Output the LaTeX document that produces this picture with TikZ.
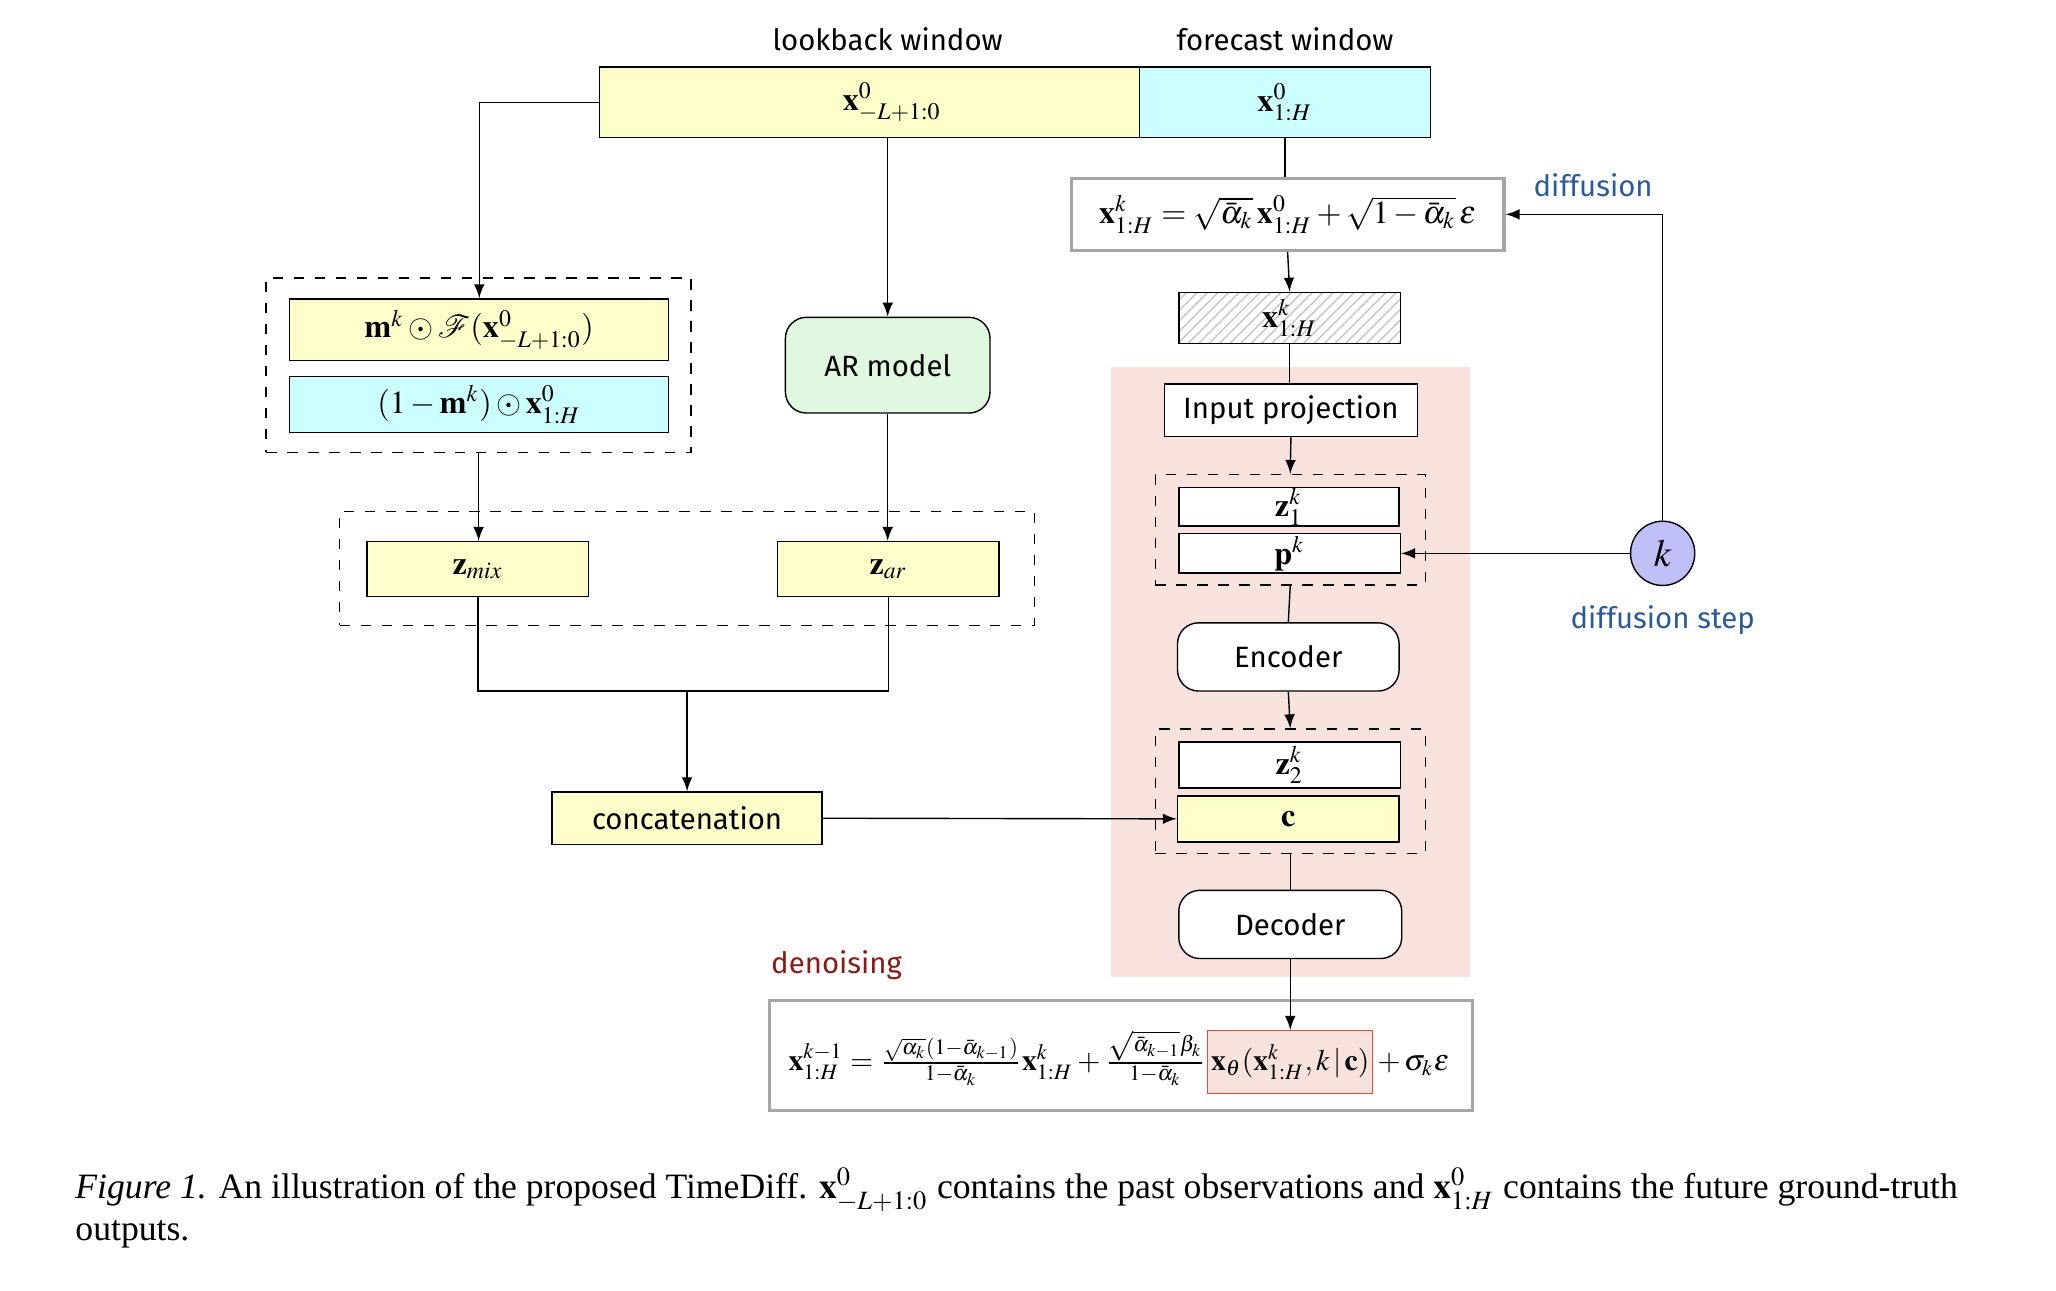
\documentclass[tikz,border=0pt]{standalone}
\usepackage{amsmath}
\usepackage{mathptmx}
\usepackage{mathrsfs}
\usepackage[no-math]{fontspec}
\setmainfont{Liberation Serif}
\newfontfamily\handfont{Fira Sans}
\newfontfamily\capfont{Liberation Serif}
\usetikzlibrary{positioning,patterns}

\definecolor{boxyellow}{RGB}{255,255,204}
\definecolor{boxcyan}{RGB}{204,255,255}
\definecolor{boxgreen}{RGB}{225,248,224}
\definecolor{netpink}{RGB}{248,226,222}
\definecolor{steplav}{RGB}{192,192,248}
\definecolor{diffblue}{RGB}{43,90,154}
\definecolor{denred}{RGB}{140,26,20}
\definecolor{hlred}{RGB}{238,75,50}

\tikzset{
  sz/.style 2 args={minimum width=#1*0.375pt, minimum height=#2*0.375pt},
  blk/.style={draw, inner sep=0pt, font=\fontsize{9.2}{11}\selectfont},
  roundblk/.style={blk, rounded corners=6pt, font=\handfont\fontsize{8.4}{10}\selectfont},
  grp/.style={draw, dashed, inner sep=0pt},
  eqbox/.style={draw=gray!70, line width=0.9pt, inner sep=0pt},
  lbl/.style={font=\handfont\fontsize{8.4}{10}\selectfont},
  deneq/.style={font=\fontsize{8.5}{10}\selectfont},
}

\begin{document}
\begin{tikzpicture}[x=0.375pt,y=-0.375pt,>=latex]
    \useasboundingbox (0,0) rectangle (1568,984);
    \fill[netpink] (847,280) rectangle (1121,745);

    % windows
    \node[blk, fill=boxyellow, sz={412}{54}] (lookback) at (663,78) {\hspace{13pt}$\mathbf{x}^0_{-L+1:0}$};
    \node[blk, fill=boxcyan, sz={222}{54}] (forecast) at (980,78) {$\mathbf{x}^0_{1:H}$};
    \node[lbl] (lbw) at (677,30) {lookback window};
    \node[lbl] (fcw) at (980,30) {forecast window};

    % diffusion branch
    \node[eqbox, fill=white, sz={330}{55}, font=\fontsize{9.2}{11}\selectfont] (eqtop) at (982,163.5) {$\mathbf{x}^k_{1:H}=\sqrt{\bar\alpha_k}\,\mathbf{x}^0_{1:H}+\sqrt{1-\bar\alpha_k}\,\epsilon$};
    \node[lbl, text=diffblue] (dlbl) at (1215,141) {diffusion};
    \node[blk, pattern=north east lines, pattern color=gray!45, sz={169}{39}] (xk) at (983.5,242.5) {$\mathbf{x}^k_{1:H}$};

    % denoising network
    \node[blk, fill=white, sz={193}{40}, font=\handfont\fontsize{8.4}{10}\selectfont] (inproj) at (984.5,313) {Input projection};
    \node[grp, sz={206}{84}] (dash1) at (984,404) {};
    \node[blk, fill=white, sz={168}{29}] (z1) at (983,386.5) {$\mathbf{z}^k_1$};
    \node[blk, fill=white, sz={169}{30}] (pk) at (983.5,422) {$\mathbf{p}^k$};
    \node[roundblk, fill=white, sz={169}{52}] (encoder) at (982.5,501) {Encoder};
    \node[grp, sz={206}{95}] (dash2) at (984,603.5) {};
    \node[blk, fill=white, sz={169}{35}] (z2) at (983.5,583.5) {$\mathbf{z}^k_2$};
    \node[blk, fill=boxyellow, sz={169}{35}] (c) at (982.5,624.5) {$\mathbf{c}$};
    \node[roundblk, fill=white, sz={170}{52}] (decoder) at (984,705) {Decoder};

    % diffusion step
    \node[circle, draw, fill=steplav, minimum size=49*0.375pt, inner sep=0pt, font=\fontsize{11}{13}\selectfont] (kc) at (1268,422) {$k$};
    \node[lbl, text=diffblue] (slbl) at (1268,473) {diffusion step};

    % conditioning branch
    \node[grp, sz={324}{133}] (dashA) at (365,278.5) {};
    \node[blk, fill=boxyellow, sz={289}{47}] (mk) at (365.5,251.5) {$\mathbf{m}^k\odot\mathscr{F}(\mathbf{x}^0_{-L+1:0})$};
    \node[blk, fill=boxcyan, sz={289}{43}] (omk) at (365.5,308.5) {$(1\mathbin{-}\mathbf{m}^k)\odot\mathbf{x}^0_{1:H}$};
    \node[roundblk, fill=boxgreen, sz={156}{73}] (ar) at (677,278.5) {AR model};
    \node[grp, sz={530}{87}] (dashB) at (524,433.5) {};
    \node[blk, fill=boxyellow, sz={169}{42}] (zmix) at (364.5,434) {$\mathbf{z}_{mix}$};
    \node[blk, fill=boxyellow, sz={169}{42}] (zar) at (677.5,434) {$\mathbf{z}_{ar}$};
    \coordinate (join) at (524,527);
    \node[blk, fill=boxyellow, sz={206}{40}, font=\handfont\fontsize{8.4}{10}\selectfont] (concat) at (524,624) {concatenation};

    % denoising equation
    \node[lbl, text=denred] (nlbl) at (638,736) {denoising};
    \node[eqbox, sz={536}{84}] (denbox) at (855,805) {};
    \node[draw=hlred, fill=netpink, inner sep=1pt, sz={124}{48}, deneq] (xth) at (984,810) {$\mathbf{x}_\theta(\mathbf{x}^k_{1:H},k\,|\,\mathbf{c})$};
    \node[base left=0pt of xth, inner sep=0pt, deneq] (denl) {$\mathbf{x}^{k-1}_{1:H}=\frac{\sqrt{\alpha_k}(1-\bar\alpha_{k-1})}{1-\bar\alpha_k}\mathbf{x}^k_{1:H}+\frac{\sqrt{\bar\alpha_{k-1}}\beta_k}{1-\bar\alpha_k}$};
    \node[base right=0pt of xth, inner sep=1pt, deneq] (denr) {$+\,\sigma_k\epsilon$};

    % connectors
    \draw[->] (lookback.west) -| (mk.north);
    \draw[->] (lookback.south -| ar.north) -- (ar.north);
    \draw (forecast.south) -- (forecast.south |- eqtop.north);
    \draw[->] (eqtop.south) -- (xk.north);
    \draw (xk.south) -- (xk.south |- inproj.north);
    \draw[->] (inproj.south) -- (dash1.north);
    \draw (dash1.south) -- (encoder.north);
    \draw[->] (encoder.south) -- (dash2.north);
    \draw (dash2.south) -- (decoder.north);
    \draw[->] (decoder.south) -- (xth.north);
    \draw[->] (kc.north) |- (eqtop.east);
    \draw[->] (kc.west) -- (pk.east);
    \draw[->] (dashA.south) -- (dashA.south |- zmix.north);
    \draw[->] (ar.south) -- (ar.south |- zar.north);
    \draw (zmix.south) |- (join) -| (zar.south);
    \draw[->] (join) -- (concat.north);
    \draw[->] (concat.east) -- (c.west);

    % caption
    \node[anchor=north west, align=left, inner sep=0pt, font=\capfont\fontsize{10.2}{12}\selectfont] (cap) at (57,890) {\textit{Figure 1.} An illustration of the proposed TimeDiff. $\mathbf{x}^0_{-L+1:0}$ contains the past observations and $\mathbf{x}^0_{1:H}$ contains the future ground-truth\\outputs.};
\end{tikzpicture}
\end{document}
